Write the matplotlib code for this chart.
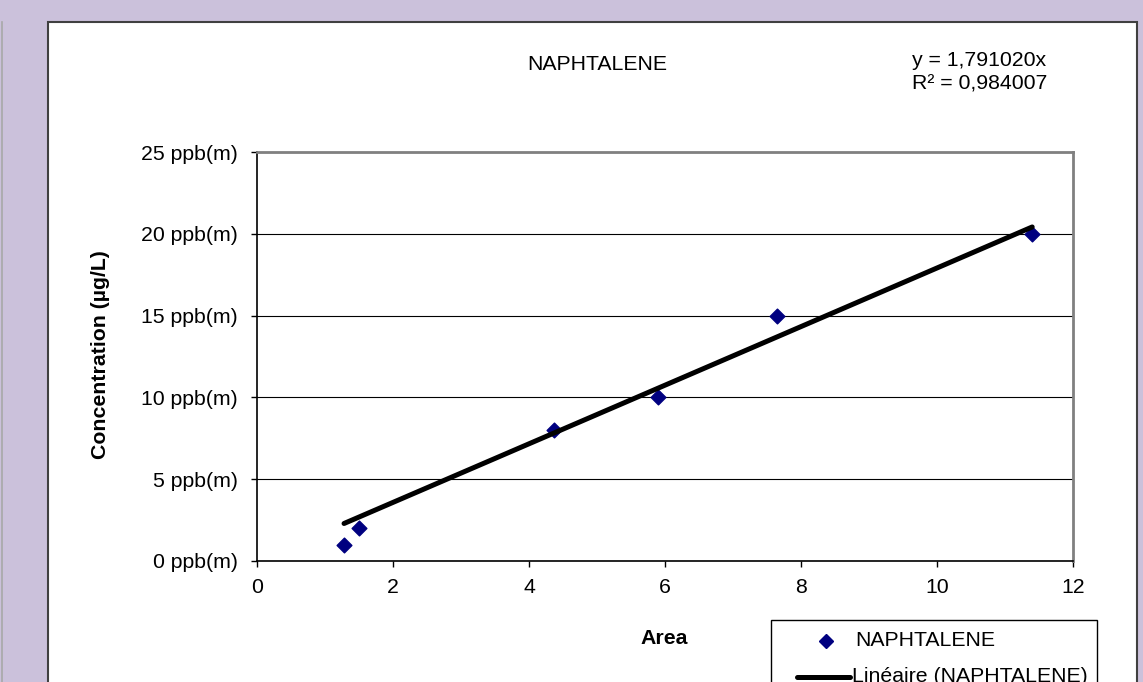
import numpy as np
import matplotlib.pyplot as plt
from matplotlib.patches import Rectangle
from matplotlib.lines import Line2D

plt.rcParams['font.family'] = ['Liberation Sans', 'DejaVu Sans']

# data
area = [1.28, 1.50, 4.37, 5.90, 7.65, 11.40]
conc = [1, 2, 8, 10, 15, 20]
slope = 1.791020
r2 = 0.984007
series_name = 'NAPHTALENE'
y_ticks = [0, 5, 10, 15, 20, 25]
x_ticks = [0, 2, 4, 6, 8, 10, 12]

W, H = 1143, 682
FS = 15.3


def fx(px):
    return px / W


def fy(py):
    return 1 - py / H


fig = plt.figure(figsize=(W / 100, H / 100), dpi=100)
fig.patch.set_facecolor('#CBC1DB')

# white chart panel
fig.add_artist(Rectangle((fx(48), fy(690)), fx(1137) - fx(48), fy(22) - fy(690),
                         transform=fig.transFigure, facecolor='white',
                         edgecolor='#404040', linewidth=1.5, zorder=0))
fig.add_artist(Line2D([fx(1.5), fx(1.5)], [fy(22), 0], transform=fig.transFigure,
                      color='#A8A8A8', linewidth=1.2))

ax = fig.add_axes([fx(257), fy(561), fx(1073) - fx(257), fy(152) - fy(561)])
ax.set_facecolor('white')

ax.scatter(area, conc, marker='D', s=7.5 ** 2, color='#000080', zorder=3)
xs = np.array([min(area), max(area)])
ax.plot(xs, slope * xs, color='black', linewidth=3.6, solid_capstyle='round', zorder=4)

ax.set_xlim(0, 12)
ax.set_ylim(0, 25)
ax.set_xticks(x_ticks)
ax.set_yticks(y_ticks)
ax.set_yticklabels([f'{v} ppb(m)' for v in y_ticks])
ax.tick_params(labelsize=FS, length=4, width=1, color='black')
ax.tick_params(axis='y', pad=10)
ax.tick_params(axis='x', pad=8)
ax.yaxis.grid(True, color='black', linewidth=0.8)
ax.set_axisbelow(True)

for s in ['left', 'bottom']:
    ax.spines[s].set_color('black')
    ax.spines[s].set_linewidth(1.2)
for s in ['top', 'right']:
    ax.spines[s].set_color('#808080')
    ax.spines[s].set_linewidth(2)

# titles and labels
fig.text(fx(597), fy(65), series_name, fontsize=FS, ha='center', va='center')
fig.text(fx(912), fy(66), f'y = {slope:.6f}x'.replace('.', ','), fontsize=FS,
         ha='left', va='baseline')
fig.text(fx(912), fy(90), f'R² = {r2:.6f}'.replace('.', ','), fontsize=FS,
         ha='left', va='baseline')
fig.text(fx(664), fy(639), 'Area', fontsize=FS, fontweight='bold', ha='center', va='center')
fig.text(fx(101), fy(355), 'Concentration (µg/L)', fontsize=FS, fontweight='bold',
         rotation=90, ha='center', va='center')

# legend box (runs off the bottom edge, as in the original)
fig.add_artist(Rectangle((fx(771), fy(700)), fx(1097) - fx(771), fy(620) - fy(700),
                         transform=fig.transFigure, facecolor='white',
                         edgecolor='black', linewidth=1))
fig.add_artist(Line2D([fx(826)], [fy(641)], transform=fig.transFigure, marker='D',
                      markersize=7, color='#000080', linestyle='none'))
fig.text(fx(855), fy(641), series_name, fontsize=FS, ha='left', va='center')
fig.add_artist(Line2D([fx(797), fx(850)], [fy(677), fy(677)], transform=fig.transFigure,
                      color='black', linewidth=3.6, solid_capstyle='round'))
fig.text(fx(852), fy(677), f'Linéaire ({series_name})', fontsize=FS, ha='left', va='center')

fig.savefig('out.png', dpi=100)
